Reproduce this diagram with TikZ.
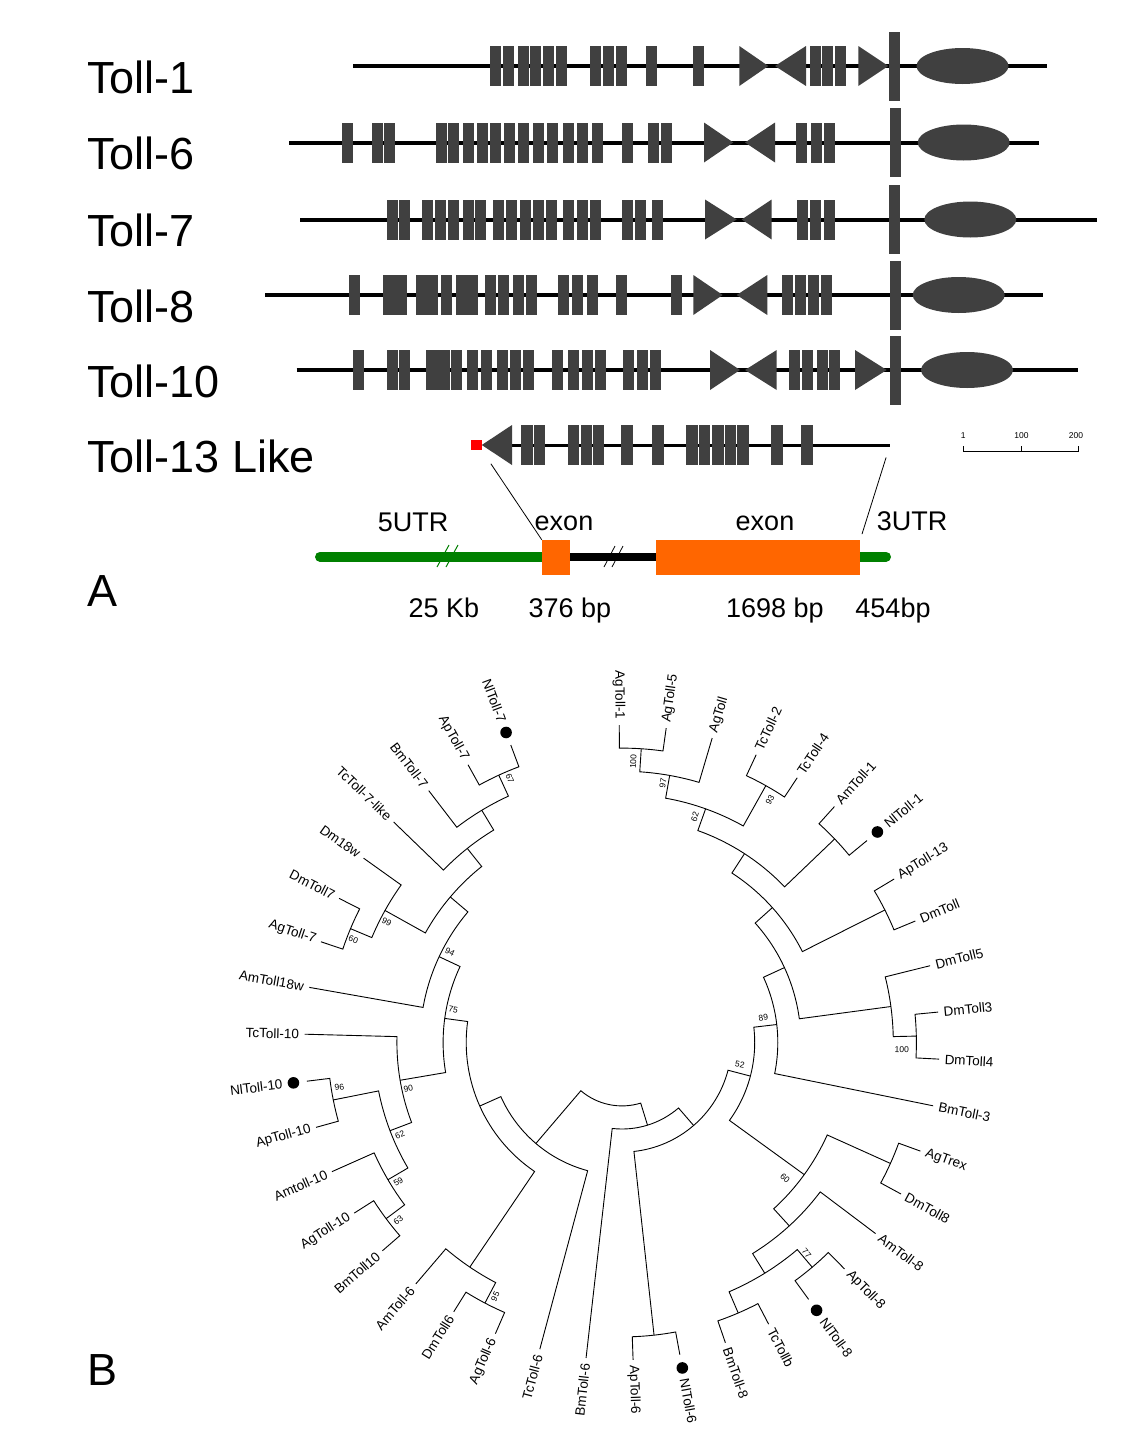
\documentclass[tikz,border=0pt]{standalone}
\usepackage{fontspec}
\setmainfont{Liberation Sans}
\usetikzlibrary{calc}
\definecolor{gdark}{HTML}{404040}
\definecolor{utrgreen}{HTML}{008000}
\definecolor{exorange}{HTML}{FF6600}

% gene drawing helpers
\newcommand\tri[3]{\fill[gfill] (#1,#3+20) -- (#2,#3) -- (#1,#3-20) -- cycle;}
\newcommand\tmbar[2]{\fill[gfill] (#1,#2+34.5) rectangle ++(11,-69);}
\newcommand\ccell[2]{\fill[gfill] (#1,#2) ellipse[x radius=46, y radius=18];}

% tree helpers (cladogram on a circle)
\newcommand\rleaf{317.5}
\newcommand\leafnode[4][322]{%
  \pgfmathsetmacro\lfang{90.5-8.5*#3}%
  \expandafter\xdef\csname ang#2\endcsname{\lfang}%
  \coordinate (#2) at (\lfang:\rleaf);
  \pgfmathtruncatemacro\lfside{cos(\lfang)<0 ? 1 : 0}%
  \ifnum\lfside=1
    \node[leaflab, rotate=\lfang+180, anchor=east] (#2-lab) at (\lfang:#1) {#4};
  \else
    \node[leaflab, rotate=\lfang, anchor=west] (#2-lab) at (\lfang:#1) {#4};
  \fi
}
\newcommand\dotleaf[3]{\leafnode[341]{#1}{#2}{#3}\fill (\lfang:331) circle (5.8);}
\newcommand\clade[4]{%
  \pgfmathsetmacro\clA{\csname ang#3\endcsname}%
  \pgfmathsetmacro\clB{\csname ang#4\endcsname}%
  \pgfmathsetmacro\clM{(\clA+\clB)/2}%
  \pgfmathsetmacro\clR{317.5-23.1*#2}%
  \expandafter\xdef\csname ang#1\endcsname{\clM}%
  \coordinate (#1) at (\clM:\clR);
  \draw[branch] (#3) -- (\clA:\clR) arc[start angle=\clA, end angle=\clB, radius=\clR] -- (#4);
}
\newcommand\boot[4]{%
  \pgfmathsetmacro\btrot{cos(#2)<0 ? #2+180 : #2}%
  \node[bootlab, rotate=\btrot] (bs-#1) at (#2:#3) {#4};
}

\begin{document}
\begin{tikzpicture}[
	x=1pt, y=1pt,
	gfill/.style={fill=gdark},
	backbone/.style={line width=4pt},
	rowlab/.style={font=\fontsize{45}{50}\selectfont, anchor=base west, inner sep=0pt},
	sublab/.style={font=\fontsize{27}{30}\selectfont, anchor=base, inner sep=0pt},
	utr/.style={utrgreen, line width=10pt, line cap=round},
	orbox/.style={rectangle, fill=exorange, inner sep=0pt, minimum height=35pt},
	zoomline/.style={line width=0.8pt},
	leaflab/.style={font=\fontsize{13.5}{14}\selectfont, inner sep=1pt},
	bootlab/.style={font=\fontsize{8.5}{9}\selectfont, inner sep=0pt},
	branch/.style={line width=0.9pt}
	]

	\fill[white] (0,0) rectangle (1131,-1440);
	\useasboundingbox (0,0) rectangle (1131,-1440);

	% ---------- panel A ----------
	\node[rowlab] (lab1) at (87,-93) {Toll-1};
	\node[rowlab] (lab6) at (87,-169.5) {Toll-6};
	\node[rowlab] (lab7) at (87,-246.5) {Toll-7};
	\node[rowlab] (lab8) at (87,-322) {Toll-8};
	\node[rowlab] (lab10) at (87,-397) {Toll-10};
	\node[rowlab] (lab13) at (87,-472) {Toll-13 Like};
	\node[rowlab] (panA) at (87,-606) {A};
	\node[rowlab] (panB) at (87,-1385) {B};

	% Toll-1
	\draw[backbone] (353,-66) -- (1047,-66);
	\foreach \x in {490,502.7,517.7,530,542.7,556,590,602.7,616,646,693.3,810,821.7,835}
		\fill[gfill] (\x,-86) rectangle ++(11,40);
	\tri{739.3}{768.3}{-66} \tri{806}{775}{-66} \tri{858.3}{888.3}{-66}
	\tmbar{889}{-66} \ccell{962.5}{-66}

	% Toll-6
	\draw[backbone] (289,-142.5) -- (1039.3,-142.5);
	\foreach \x in {341.7,372.3,384,435.7,447.7,463.3,476.7,490,504,518.3,532.7,546.7,562.7,576.7,591.7,622.3,648.3,660.7,796,811,824}
		\fill[gfill] (\x,-162.5) rectangle ++(11,40);
	\tri{704}{733.3}{-142.5} \tri{775}{745}{-142.5}
	\tmbar{890}{-142.5} \ccell{963.7}{-142.5}

	% Toll-7
	\draw[backbone] (300,-219.5) -- (1096.7,-219.5);
	\foreach \x in {387.3,399.3,421.7,435,448.3,462.7,475.3,492.7,506,520,532.7,546,562.7,577.3,590,621.7,635,651.7,797.3,810,824}
		\fill[gfill] (\x,-239.5) rectangle ++(11,40);
	\tri{705}{736.7}{-219.5} \tri{771.7}{741.7}{-219.5}
	\tmbar{889}{-219.5} \ccell{970.3}{-219.5}

	% Toll-8
	\draw[backbone] (265,-295) -- (1043.3,-295);
	\foreach \x in {349,416,427.3,440.7,456,467.3,485,498.3,513.3,526,558.3,572.3,586.7,616,670.7,781.7,795,808.3,821}
		\fill[gfill] (\x,-315) rectangle ++(11,40);
	\fill[gfill] (383.3,-315) rectangle ++(23.4,40);
	\tri{693.3}{722.7}{-295} \tri{767.3}{736.7}{-295}
	\tmbar{890}{-295} \ccell{958.7}{-295}

	% Toll-10
	\draw[backbone] (296.7,-370) -- (1078.3,-370);
	\foreach \x in {353.3,387.3,399.3,451,467.3,480.7,496.7,510,522.7,551.7,568.3,581.7,595,623.3,636.7,650,789.3,802,816.7,829.3}
		\fill[gfill] (\x,-390) rectangle ++(11,40);
	\fill[gfill] (426,-390) rectangle ++(24,40);
	\tri{710}{740}{-370} \tri{776.7}{745}{-370} \tri{855}{886.7}{-370}
	\tmbar{890}{-370} \ccell{967}{-370}

	% Toll-13 Like
	\draw[line width=3pt] (500,-445) -- (890,-445);
	\coordinate (t13end) at (890,-445);
	\foreach \x in {521,533.6,567.5,580.7,592.5,621,652,686.4,698.6,712,724.6,737,771,801.4}
		\fill[gfill] (\x,-465) rectangle ++(11.5,40);
	\tri{512}{481.8}{-445}
	\node[rectangle, fill=red, inner sep=0pt, minimum size=10.5pt] (redsq) at (476.5,-445) {};

	% scale bar
	\draw[line width=0.7pt] (963.3,-446) -- (963.3,-451) -- (1078.3,-451) -- (1078.3,-446)
		(1021,-446) -- (1021,-451);
	\node[bootlab, anchor=base] (sc1) at (963.3,-438) {1};
	\node[bootlab, anchor=base] (sc100) at (1021.5,-438) {100};
	\node[bootlab, anchor=base] (sc200) at (1076,-438) {200};

	% zoomed gene model
	\draw[utr] (320,-556.7) -- (542,-556.7);
	\draw[line width=8pt] (570,-556.7) -- (656,-556.7);
	\draw[utr] (860,-556.7) -- (886,-556.7);
	\node[orbox, minimum width=28pt] (ex1) at (556,-557.5) {};
	\node[orbox, minimum width=204pt] (ex2) at (758,-557.5) {};
	\draw[utrgreen, line width=1pt] (437,-567) -- (449,-545) (446,-567) -- (458,-545);
	\draw[line width=0.8pt] (604,-567) -- (615,-546) (612,-567) -- (623,-546);
	\draw[zoomline, shorten <=16pt] (redsq.south east) -- (ex1.north west);
	\draw[zoomline, shorten <=13pt, shorten >=6pt] (t13end) -- (ex2.north east);

	\node[sublab] (l5utr) at (413,-531) {5UTR};
	\node[sublab] (lex1) at (564,-530) {exon};
	\node[sublab] (lex2) at (765,-530) {exon};
	\node[sublab] (l3utr) at (912,-530) {3UTR};
	\node[sublab] (l25kb) at (444,-617) {25 Kb};
	\node[sublab] (l376) at (570,-617) {376 bp};
	\node[sublab] (l1698) at (775,-617) {1698 bp};
	\node[sublab] (l454) at (893,-617) {454bp};

	% ---------- panel B: circular tree ----------
	\begin{scope}[shift={(622,-1042.5)}]
		\leafnode{agT1}{0}{AgToll-1}
		\leafnode{agT5}{1}{AgToll-5}
		\leafnode{agT}{2}{AgToll}
		\leafnode{tcT2}{3}{TcToll-2}
		\leafnode{tcT4}{4}{TcToll-4}
		\leafnode{amT1}{5}{AmToll-1}
		\dotleaf{nlT1}{6}{NlToll-1}
		\leafnode{apT13}{7}{ApToll-13}
		\leafnode{dmT}{8}{DmToll}
		\leafnode{dmT5}{9}{DmToll5}
		\leafnode{dmT3}{10}{DmToll3}
		\leafnode{dmT4}{11}{DmToll4}
		\leafnode{bmT3}{12}{BmToll-3}
		\leafnode{agTrex}{13}{AgTrex}
		\leafnode{dmT8}{14}{DmToll8}
		\leafnode{amT8}{15}{AmToll-8}
		\leafnode{apT8}{16}{ApToll-8}
		\dotleaf{nlT8}{17}{NlToll-8}
		\leafnode{tcTb}{18}{TcTollb}
		\leafnode{bmT8}{19}{BmToll-8}
		\dotleaf{nlT6}{20}{NlToll-6}
		\leafnode{apT6}{21}{ApToll-6}
		\leafnode{bmT6}{22}{BmToll-6}
		\leafnode{tcT6}{23}{TcToll-6}
		\leafnode{agT6}{24}{AgToll-6}
		\leafnode{dmT6}{25}{DmToll6}
		\leafnode{amT6}{26}{AmToll-6}
		\leafnode{bmT10}{27}{BmToll10}
		\leafnode{agT10}{28}{AgToll-10}
		\leafnode{amT10}{29}{Amtoll-10}
		\leafnode{apT10}{30}{ApToll-10}
		\dotleaf{nlT10}{31}{NlToll-10}
		\leafnode{tcT10}{32}{TcToll-10}
		\leafnode{amT18w}{33}{AmToll18w}
		\leafnode{agT7}{34}{AgToll-7}
		\leafnode{dmT7}{35}{DmToll7}
		\leafnode{dm18w}{36}{Dm18w}
		\leafnode{tcT7l}{37}{TcToll-7-like}
		\leafnode{bmT7}{38}{BmToll-7}
		\leafnode{apT7}{39}{ApToll-7}
		\dotleaf{nlT7}{40}{NlToll-7}

		% clades: name, height, child, child
		\clade{b100}{1}{agT1}{agT5}
		\clade{b97}{2}{b100}{agT}
		\clade{b93}{1}{tcT2}{tcT4}
		\clade{b62}{3}{b97}{b93}
		\clade{amnl}{1}{amT1}{nlT1}
		\clade{cX}{4}{b62}{amnl}
		\clade{apdm}{1}{apT13}{dmT}
		\clade{cY}{5}{cX}{apdm}
		\clade{b100d}{1}{dmT3}{dmT4}
		\clade{cD5}{2}{dmT5}{b100d}
		\clade{cZ}{6}{cY}{cD5}
		\clade{b89}{7}{cZ}{bmT3}
		\clade{agdm}{1}{agTrex}{dmT8}
		\clade{b77}{1}{apT8}{nlT8}
		\clade{tcbm}{1}{tcTb}{bmT8}
		\clade{cR}{2}{b77}{tcbm}
		\clade{cQ}{3}{amT8}{cR}
		\clade{b60}{4}{agdm}{cQ}
		\clade{b52}{8}{b89}{b60}
		\clade{apnl}{1}{nlT6}{apT6}
		\clade{cT}{9}{b52}{apnl}
		\clade{cS}{10}{cT}{bmT6}
		\clade{b95}{1}{agT6}{dmT6}
		\clade{am6}{2}{b95}{amT6}
		\clade{b63}{1}{bmT10}{agT10}
		\clade{b59}{2}{b63}{amT10}
		\clade{b96}{1}{apT10}{nlT10}
		\clade{b62b}{3}{b59}{b96}
		\clade{b90}{4}{b62b}{tcT10}
		\clade{b60b}{1}{agT7}{dmT7}
		\clade{b99}{2}{b60b}{dm18w}
		\clade{b67}{1}{apT7}{nlT7}
		\clade{bm7}{2}{bmT7}{b67}
		\clade{tc7}{3}{tcT7l}{bm7}
		\clade{cG}{4}{b99}{tc7}
		\clade{b94}{5}{amT18w}{cG}
		\clade{b75}{6}{b90}{b94}
		\clade{cK}{7}{am6}{b75}
		\clade{cL}{8}{tcT6}{cK}
		\clade{root}{11}{cS}{cL}

		% bootstrap values
		\boot{100a}{87.7}{281}{100}
		\boot{97}{81}{262.4}{97}
		\boot{62a}{72.1}{237.3}{62}
		\boot{93}{58.6}{284}{93}
		\boot{89}{9.8}{143.4}{89}
		\boot{100b}{-1.4}{279.8}{100}
		\boot{52}{-10.8}{120}{52}
		\boot{60a}{-39.7}{212}{60}
		\boot{77}{-48.8}{280.3}{77}
		\boot{95}{-116.5}{284}{95}
		\boot{63}{-141.6}{285.6}{63}
		\boot{59}{-148.1}{263.5}{59}
		\boot{62b}{-157.4}{240.5}{62}
		\boot{90}{-167.9}{218.5}{90}
		\boot{96}{-171}{286.2}{96}
		\boot{75}{-191.1}{172}{75}
		\boot{94}{-207.8}{194.5}{94}
		\boot{99}{-207.2}{264.5}{99}
		\boot{60b}{-200.9}{287.6}{60}
		\boot{67}{-247}{287}{67}
	\end{scope}

\end{tikzpicture}
\end{document}
